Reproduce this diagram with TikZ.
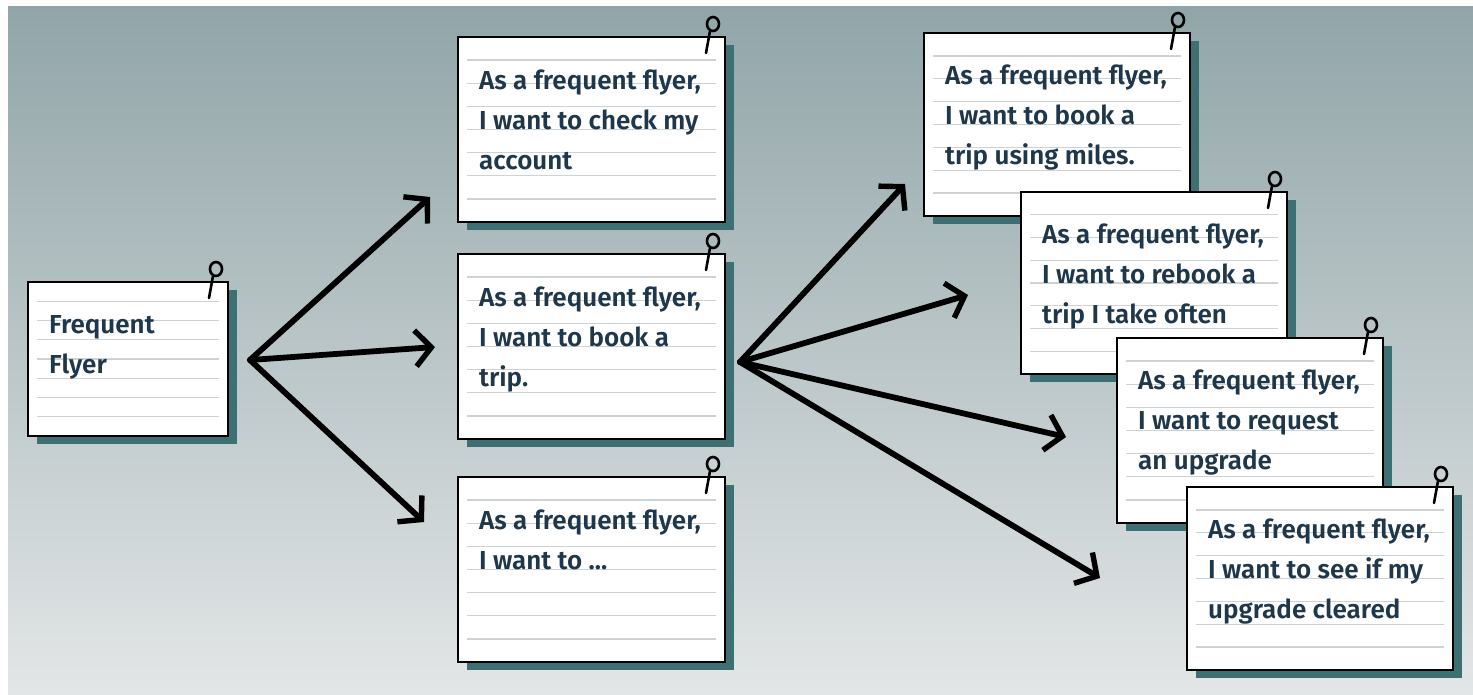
\documentclass[tikz,border=0pt]{standalone}
\usepackage{fontspec}
\setmainfont{Fira Sans}[UprightFont={* SemiBold}]
\usetikzlibrary{arrows.meta,shadows}
\definecolor{bgtop}{HTML}{91A5A8}
\definecolor{bgbot}{HTML}{E3E6E7}
\definecolor{shadowteal}{HTML}{3E6F73}
\definecolor{inkblue}{HTML}{1F374B}
\definecolor{ruleline}{HTML}{CDD2D4}
\newcommand\tdots{...}
\tikzset{
  card/.style={draw=black, fill=white, line width=2.8pt, inner sep=0pt, outer sep=0pt,
    drop shadow={shadow xshift=9pt, shadow yshift=-8pt, fill=shadowteal, opacity=1}},
  ruled/.style={draw=ruleline, line width=1.3pt},
  cardtext/.style={inner sep=0pt, text=inkblue, font=\fontsize{26}{30}\selectfont},
  pinline/.style={draw=black, line width=2.6pt, line cap=round},
  flow/.style={draw=black, line width=5.8pt, line cap=round,
    -{Straight Barb[length=16pt,width=36pt,line width=5.4pt]}}
}
\newcommand\storycard[7]{% name, left, top, width, height, first baseline, lines
  \node[card, minimum width=#4pt, minimum height=#5pt, anchor=north west] (#1) at (#2,#3) {};
  \foreach \k in {1,...,7}
    \draw[ruled] ([xshift=9pt, yshift=-#5pt*\k/8]#1.north west) -- ([xshift=-9pt, yshift=-#5pt*\k/8]#1.north east);
  \foreach \l [count=\i] in {#7}
    \node[cardtext, anchor=base west] (#1-\i) at ([xshift=21pt, yshift={-#6pt-40pt*(\i-1)}]#1.north west) {\l};
  \draw[pinline] ([xshift=-12pt, yshift=13pt]#1.north east) ellipse [x radius=6pt, y radius=7pt];
  \draw[pinline] ([xshift=-15pt, yshift=6pt]#1.north east) -- ([xshift=-19pt, yshift=-16pt]#1.north east);
}
\begin{document}
\begin{tikzpicture}[x=1pt, y=-1pt]
  \useasboundingbox (0,0) rectangle (1473,694);
  \fill[white] (0,0) rectangle (1473,694);
  \shade[top color=bgtop, bottom color=bgbot] (8,6) rectangle (1473,694);

  \storycard{ff}{28}{282}{200}{154}{51}{{Frequent},{Flyer}}
  \storycard{check}{458}{37}{267}{185}{52}{{As a frequent flyer,},{I want to check my},{account}}
  \storycard{book}{458}{254}{267}{185}{52}{{As a frequent flyer,},{I want to book a},{trip.}}
  \storycard{other}{458}{477}{267}{185}{52}{{As a frequent flyer,},{I want to \tdots}}
  \storycard{miles}{924}{33}{266}{183}{51}{{As a frequent flyer,},{I want to book a},{trip using miles.}}
  \storycard{rebook}{1021}{192}{266}{182}{51}{{As a frequent flyer,},{I want to rebook a},{trip I take often}}
  \storycard{upgrade}{1117}{338}{266}{185}{51}{{As a frequent flyer,},{I want to request},{an upgrade}}
  \storycard{cleared}{1187}{487}{266}{183}{51}{{As a frequent flyer,},{I want to see if my},{upgrade cleared}}

  \coordinate (o1) at (250,360);
  \coordinate (o2) at (740,362);
  \coordinate (t-check) at (430,197);
  \coordinate (t-book) at (435,347);
  \coordinate (t-other) at (424,522);
  \coordinate (t-miles) at (905,184);
  \coordinate (t-rebook) at (968,295);
  \coordinate (t-upgrade) at (1066,437);
  \coordinate (t-cleared) at (1100,578);

  \draw[flow] (o1) -- (t-check);
  \draw[flow] (o1) -- (t-book);
  \draw[flow] (o1) -- (t-other);
  \draw[flow] (o2) -- (t-miles);
  \draw[flow] (o2) -- (t-rebook);
  \draw[flow] (o2) -- (t-upgrade);
  \draw[flow] (o2) -- (t-cleared);
\end{tikzpicture}
\end{document}
